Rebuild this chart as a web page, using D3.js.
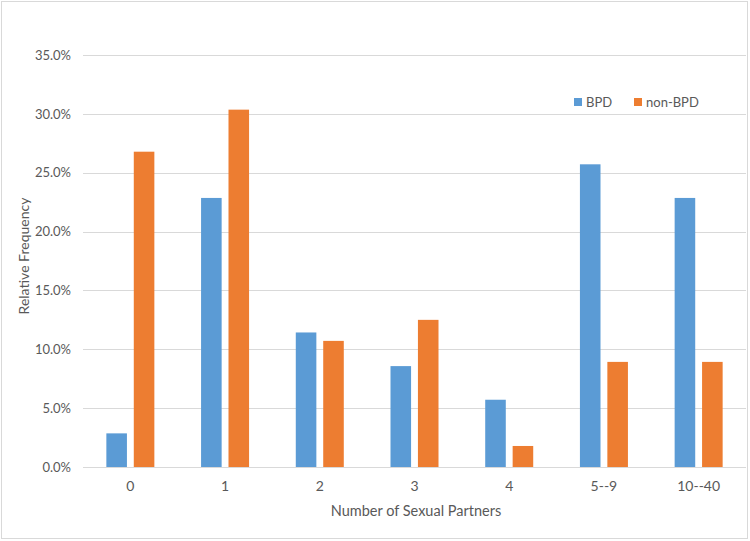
<!DOCTYPE html>
<html><head><meta charset="utf-8">
<script src="https://cdn.jsdelivr.net/npm/d3@7"></script>
<style>body{margin:0;background:#fff;} text{font-family:Lato,"Open Sans",sans-serif;fill:#595959;}</style>
</head><body>
<svg id="c" width="750" height="541"></svg>
<script>
const categories = ["0","1","2","3","4","5--9","10--40"];
const seriesNames = ["BPD","non-BPD"];
const bpd = [2.857, 22.857, 11.429, 8.571, 5.714, 25.714, 22.857];
const nonBpd = [26.786, 30.357, 10.714, 12.5, 1.786, 8.929, 8.929];
const yTicks = [0,5,10,15,20,25,30,35];
const colors = ["#5B9BD5","#ED7D31"];

const svg = d3.select("#c");
svg.append("rect").attr("x",1.5).attr("y",1.5).attr("width",746).attr("height",537)
  .attr("fill","#fff").attr("stroke","#d9d9d9");

const pLeft=83, pRight=746, pTop=55, pBottom=467;
const x = d3.scaleBand().domain(categories).range([pLeft,pRight]);
const y = d3.scaleLinear().domain([0,35]).range([pBottom,pTop]);
const x1 = d3.scaleBand().domain(seriesNames).range([-24,24]).paddingInner(0.25);

// gridlines
svg.append("g").selectAll("line").data(yTicks).join("line")
  .attr("x1",pLeft).attr("x2",pRight)
  .attr("y1",d=>Math.round(y(d))+0.5).attr("y2",d=>Math.round(y(d))+0.5)
  .attr("stroke","#d9d9d9").attr("stroke-width",1);

// y axis labels
const yAxis = d3.axisLeft(y).tickValues(yTicks).tickFormat(d=>d.toFixed(1)+"%").tickSize(0).tickPadding(12);
const ga = svg.append("g").attr("transform",`translate(${pLeft},0)`).call(yAxis);
ga.select(".domain").remove();
ga.selectAll("text").style("font-size","13px").attr("fill","#595959").style("font-family","Lato");

// x axis labels
const xAxis = d3.axisBottom(x).tickSize(0).tickPadding(14);
const gx = svg.append("g").attr("transform",`translate(0,${pBottom})`).call(xAxis);
gx.select(".domain").remove();
gx.selectAll("text").style("font-size","14px").attr("fill","#595959").style("font-family","Lato");

const data = categories.map((c,i)=>({c, vals:[bpd[i], nonBpd[i]]}));
const groups = svg.append("g").selectAll("g").data(data).join("g")
  .attr("transform",d=>`translate(${x(d.c)+x.bandwidth()/2},0)`);
groups.selectAll("rect").data(d=>d.vals.map((v,j)=>({v,s:seriesNames[j],j}))).join("rect")
  .attr("x",d=>x1(d.s)).attr("width",x1.bandwidth())
  .attr("y",d=>y(d.v)).attr("height",d=>pBottom-y(d.v))
  .attr("fill",d=>colors[d.j]);

// axis titles
svg.append("text").attr("transform","translate(29,256) rotate(-90)").attr("text-anchor","middle")
  .style("font-size","14px").text("Relative Frequency");
svg.append("text").attr("x",416).attr("y",516).attr("text-anchor","middle")
  .style("font-size","14.5px").text("Number of Sexual Partners");

// legend
const legX = [574, 634];
seriesNames.forEach((s,i)=>{
  svg.append("rect").attr("x",legX[i]).attr("y",98).attr("width",8).attr("height",8).attr("fill",colors[i]);
  svg.append("text").attr("x",legX[i]+12).attr("y",106.5).style("font-size","13px").text(s);
});
</script>
</body></html>
